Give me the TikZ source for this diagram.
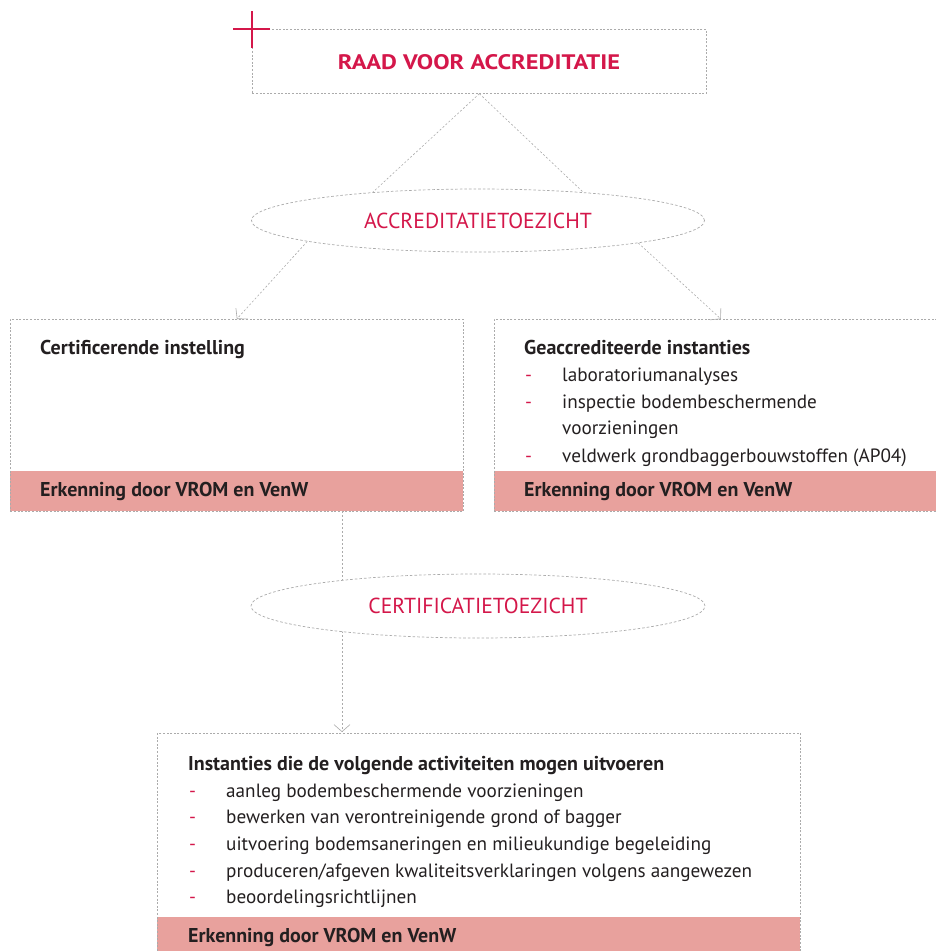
\documentclass[tikz,border=0pt]{standalone}
\usepackage{fontspec}
\usepackage{graphicx}
\setmainfont{PT Sans}
\usetikzlibrary{shapes.geometric,arrows.meta}
\definecolor{crim}{HTML}{D4174A}
\definecolor{bandpink}{HTML}{E8A19D}
\definecolor{dgrey}{HTML}{ABABAB}
\definecolor{ink}{HTML}{231F20}
\begin{document}
\begin{tikzpicture}[x=1pt,y=-1pt,
 dbox/.style={draw=dgrey,line width=0.7pt,dash pattern=on 2pt off 1.6pt,inner sep=0pt,anchor=north west},
 band/.style={fill=bandpink,draw=none,inner sep=0pt,anchor=north west},
 oval/.style={ellipse,draw=dgrey,line width=0.7pt,dash pattern=on 2.6pt off 2pt,fill=white,inner sep=0pt,text=crim,font=\fontsize{21.7}{24}\selectfont},
 conn/.style={draw=dgrey,line width=0.6pt,dash pattern=on 2pt off 2pt},
 arr/.style={conn,-{Straight Barb[length=7pt,width=16pt,line width=0.6pt]}},
 ttl/.style={anchor=base west,inner sep=0pt,text=ink,font=\fontsize{20}{22}\selectfont\bfseries},
 itm/.style={anchor=base west,inner sep=0pt,text=ink,font=\fontsize{19.2}{21}\selectfont},
 bul/.style={anchor=base west,inner sep=0pt,text=crim,font=\fontsize{19.2}{21}\selectfont},
]
\useasboundingbox (0,0) rectangle (936,951);
\clip (0,0) rectangle (936,951);

% top box
\node[dbox,minimum width=454pt,minimum height=64pt] (raad) at (252,29) {};
\node[inner sep=0pt,text=crim,font=\fontsize{21}{23}\selectfont\bfseries] (raadt) at (479,62) {\scalebox{1.165}[1]{RAAD VOOR ACCREDITATIE}};
\draw[crim,line width=2.3pt] (251.7,11) -- (251.7,48);
\draw[crim,line width=2.3pt] (233,29.3) -- (270,29.3);

% vertical connector behind second oval
\coordinate (v1) at (342,511);
\coordinate (v2) at (342,732);
\draw[arr] (v1) -- (v2);

% ovals
\node[oval,minimum width=453pt,minimum height=63pt] (acc) at (478,220.5) {ACCREDITATIETOEZICHT};
\node[oval,minimum width=454pt,minimum height=64pt] (cer) at (478,606) {CERTIFICATIETOEZICHT};

% left box
\node[band,minimum width=453pt,minimum height=40pt] (cband) at (10,471) {};
\node[dbox,minimum width=453pt,minimum height=192pt] (cert) at (10,319) {};
\node[ttl] (certt) at (40,354) {Certificerende instelling};
\node[ttl] (certe) at (40,496) {Erkenning door VROM en VenW};

% right box
\node[band,minimum width=453pt,minimum height=40pt] (gband) at (494,471) {};
\node[dbox,minimum width=453pt,minimum height=192pt] (geac) at (494,319) {};
\node[ttl] (geact) at (524,354) {Geaccrediteerde instanties};
\node[bul] (gb1) at (525,381) {-};
\node[itm] (gi1) at (562,381) {laboratoriumanalyses};
\node[bul] (gb2) at (525,408) {-};
\node[itm] (gi2) at (562,408) {inspectie bodembeschermende};
\node[itm] (gi2b) at (562,434) {voorzieningen};
\node[bul] (gb3) at (525,462) {-};
\node[itm] (gi3) at (562,462) {veldwerk grondbaggerbouwstoffen (AP04)};
\node[ttl] (geace) at (524,496) {Erkenning door VROM en VenW};

% bottom box
\node[band,minimum width=643pt,minimum height=45pt] (iband) at (157,917) {};
\node[dbox,minimum width=643pt,minimum height=230pt] (inst) at (157,733) {};
\node[ttl] (instt) at (188,770) {Instanties die de volgende activiteiten mogen uitvoeren};
\node[bul] (ib1) at (189,797) {-};
\node[itm] (ii1) at (226,797) {aanleg bodembeschermende voorzieningen};
\node[bul] (ib2) at (189,823) {-};
\node[itm] (ii2) at (226,823) {bewerken van verontreinigende grond of bagger};
\node[bul] (ib3) at (189,850) {-};
\node[itm] (ii3) at (226,850) {uitvoering bodemsaneringen en milieukundige begeleiding};
\node[bul] (ib4) at (189,877) {-};
\node[itm] (ii4) at (226,877) {produceren/afgeven kwaliteitsverklaringen volgens aangewezen};
\node[bul] (ib5) at (189,903) {-};
\node[itm] (ii5) at (226,903) {beoordelingsrichtlijnen};
\node[ttl] (inste) at (188,942) {Erkenning door VROM en VenW};

% connectors
\draw[conn] (raad.south) -- (acc.165);
\draw[conn] (raad.south) -- (acc.15);
\draw[arr] (acc.187.7) -- (cert.north);
\draw[arr] (acc.352.3) -- (geac.north);
\end{tikzpicture}
\end{document}
